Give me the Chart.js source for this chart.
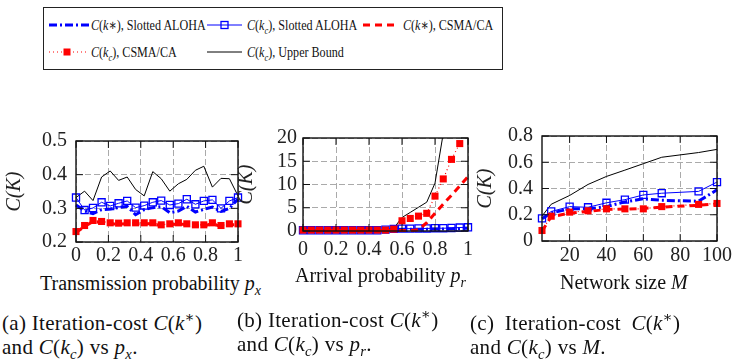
<!DOCTYPE html>
<html>
<head>
<meta charset="utf-8">
<script src="https://cdn.jsdelivr.net/npm/chart.js"></script>
<style>
  body { margin: 0; width: 735px; height: 361px; background: #fff; position: relative; overflow: hidden;
         font-family: 'Liberation Serif', 'DejaVu Serif', serif; color: #111; }
  canvas, .t { position: absolute; }
  .t { white-space: nowrap; }
  .lg { font-size: 15.5px; line-height: 18px; transform: scaleX(0.78); transform-origin: 0 50%; }
  .xt { font-size: 20px; line-height: 24px; }
  .cap { font-size: 21px; line-height: 24px; letter-spacing: 0.3px; }
  sub, sup { font-size: 70%; line-height: 0; }
</style>
</head>
<body>

<div class="t" style="left:43px;top:7px;width:460px;height:63px;border:1.5px solid #222;box-sizing:border-box;"></div>
<svg width="735" height="80" style="position:absolute;left:0;top:0">
  <line x1="49" y1="25" x2="89" y2="25" stroke="#00f" stroke-width="3" stroke-dasharray="8 3 2 3"/>
  <line x1="207" y1="25" x2="242" y2="25" stroke="#00f" stroke-width="1"/>
  <rect x="221" y="21.5" width="7" height="7" fill="none" stroke="#00f" stroke-width="1.3"/>
  <line x1="363" y1="25" x2="395" y2="25" stroke="#f00" stroke-width="3" stroke-dasharray="7 5"/>
  <line x1="49" y1="52" x2="87" y2="52" stroke="#f00" stroke-width="1.2" stroke-dasharray="1 3"/>
  <rect x="63.5" y="48.5" width="7" height="7" fill="#f00"/>
  <line x1="207" y1="52" x2="242" y2="52" stroke="#000" stroke-width="1"/>
</svg>
<div class="t lg" style="left:91px;top:16px"><i>C</i>(<i>k</i>∗), Slotted ALOHA</div>
<div class="t lg" style="left:247px;top:16px"><i>C</i>(<i>k<sub>c</sub></i>), Slotted ALOHA</div>
<div class="t lg" style="left:403px;top:16px"><i>C</i>(<i>k</i>∗), CSMA/CA</div>
<div class="t lg" style="left:91px;top:43px"><i>C</i>(<i>k<sub>c</sub></i>), CSMA/CA</div>
<div class="t lg" style="left:247px;top:43px"><i>C</i>(<i>k<sub>c</sub></i>), Upper Bound</div>

<canvas id="chartA" width="250" height="150" style="left:0;top:120px"></canvas>
<canvas id="chartB" width="248" height="140" style="left:232px;top:120px"></canvas>
<canvas id="chartC" width="264" height="155" style="left:471px;top:115px"></canvas>

<div class="t xt" style="left:40px;top:271px">Transmission probability <i>p<sub>x</sub></i></div>
<div class="t xt" style="left:295px;top:263px">Arrival probability <i>p<sub>r</sub></i></div>
<div class="t xt" style="left:560px;top:270px">Network size <i>M</i></div>

<div class="t cap" style="left:2px;top:311px">(a) Iteration-cost <i>C</i>(<i>k</i><sup>∗</sup>)<br>and <i>C</i>(<i>k<sub>c</sub></i>) vs <i>p<sub>x</sub></i>.</div>
<div class="t cap" style="left:237px;top:308px">(b) Iteration-cost <i>C</i>(<i>k</i><sup>∗</sup>)<br>and <i>C</i>(<i>k<sub>c</sub></i>) vs <i>p<sub>r</sub></i>.</div>
<div class="t cap" style="left:470px;top:311px"><span style="word-spacing:5px">(c) Iteration-cost <i>C</i>(<i>k</i><sup>∗</sup>)</span><br>and <i>C</i>(<i>k<sub>c</sub></i>) vs <i>M</i>.</div>

<script>
// (a) cost vs transmission probability
const pxVals = [0, 0.053, 0.105, 0.158, 0.211, 0.263, 0.316, 0.368, 0.421, 0.474, 0.526, 0.579, 0.632, 0.684, 0.737, 0.789, 0.842, 0.895, 0.947, 1];
const aAlohaStar = [0.31, 0.292, 0.284, 0.296, 0.298, 0.302, 0.306, 0.281, 0.296, 0.302, 0.305, 0.287, 0.292, 0.306, 0.289, 0.297, 0.304, 0.291, 0.3, 0.328];
const aAlohaKc = [0.332, 0.295, 0.301, 0.318, 0.307, 0.315, 0.322, 0.302, 0.308, 0.318, 0.323, 0.31, 0.314, 0.327, 0.312, 0.322, 0.325, 0.3, 0.322, 0.332];
const aCsmaStar = [0.228, 0.246, 0.261, 0.258, 0.254, 0.253, 0.254, 0.254, 0.254, 0.254, 0.248, 0.251, 0.254, 0.251, 0.248, 0.248, 0.254, 0.246, 0.251, 0.251];
const aCsmaKc = [0.231, 0.249, 0.264, 0.261, 0.257, 0.256, 0.257, 0.257, 0.257, 0.257, 0.251, 0.254, 0.257, 0.254, 0.251, 0.251, 0.257, 0.249, 0.254, 0.254];
const aUpper = [0.332, 0.351, 0.323, 0.393, 0.411, 0.383, 0.393, 0.356, 0.337, 0.409, 0.388, 0.351, 0.373, 0.386, 0.413, 0.425, 0.363, 0.389, 0.388, 0.337];

// (b) cost vs arrival probability
const prVals = [0, 0.05, 0.1, 0.15, 0.2, 0.25, 0.3, 0.35, 0.4, 0.45, 0.5, 0.55, 0.6, 0.65, 0.7, 0.75, 0.8, 0.85, 0.9, 0.95, 1];
const bAlohaStar = [0.1, 0.1, 0.1, 0.1, 0.1, 0.1, 0.1, 0.1, 0.1, 0.1, 0.2, 0.3, 0.35, 0.35, 0.4, 0.4, 0.45, 0.45, 0.5, 0.55, 0.6];
const bAlohaKc = [0.15, 0.15, 0.15, 0.15, 0.15, 0.15, 0.15, 0.15, 0.15, 0.15, 0.3, 0.45, 0.5, 0.5, 0.55, 0.55, 0.6, 0.6, 0.65, 0.75, 0.8];
const bCsmaStar = [0.1, 0.1, 0.1, 0.1, 0.1, 0.1, 0.1, 0.1, 0.1, 0.1, 0.1, 0.1, 0.1, 0.1, 0.3, 1.8, 3.8, 5.8, 7.7, 9.7, 11.7];
const bCsmaKc = [0.2, 0.2, 0.2, 0.2, 0.2, 0.2, 0.2, 0.2, 0.2, 0.2, 0.2, 0.4, 2.2, 2.7, 3.2, 3.8, 7.5, 11.2, 15.4, 18.8];
const bUpper = [0.1, 0.1, 0.1, 0.1, 0.1, 0.1, 0.1, 0.1, 0.1, 0.1, 0.1, 0.6, 2.9, 4.0, 5.1, 6.2, 10.3, 21];

// (c) cost vs network size
const mVals = [5, 10, 20, 30, 40, 50, 60, 70, 90, 100];
const cAlohaStar = [0.17, 0.213, 0.245, 0.245, 0.262, 0.298, 0.322, 0.31, 0.303, 0.39];
const cAlohaKc = [0.172, 0.225, 0.262, 0.257, 0.291, 0.315, 0.351, 0.364, 0.378, 0.449];
const cCsmaStar = [0.075, 0.185, 0.212, 0.225, 0.24, 0.243, 0.248, 0.258, 0.272, 0.282];
const cCsmaKc = [0.08, 0.189, 0.22, 0.23, 0.245, 0.245, 0.245, 0.262, 0.279, 0.286];
const cUpper = [0.19, 0.28, 0.347, 0.431, 0.492, 0.54, 0.589, 0.638, 0.674, 0.698];

// tick labels
const pTicks = [0, 0.2, 0.4, 0.6, 0.8, 1];
const aYTicks = [0.2, 0.3, 0.4, 0.5];
const bYTicks = [0, 5, 10, 15, 20];
const mTicks = [20, 40, 60, 80, 100];
const cYTicks = [0, 0.2, 0.4, 0.6, 0.8];

const BLUE = '#0000ff', RED = '#ff0000';
const serif = 'Liberation Serif';

function pts(xs, ys) {
    return ys.map((v, i) => ({ x: xs[i], y: v }));
}

function makeSets(xs, alohaStar, alohaKc, csmaStar, csmaKc, upper, clip) {
    return [
        { data: pts(xs, csmaKc), borderColor: RED, borderWidth: 1.2, borderDash: [1, 3],
          pointStyle: 'rect', pointRadius: 5, pointBackgroundColor: RED, pointBorderColor: RED, pointBorderWidth: 0, order: 0, clip },
        { data: pts(xs, csmaStar), borderColor: RED, borderWidth: 3, borderDash: [7, 5], pointRadius: 0, order: 1, clip },
        { data: pts(xs, alohaKc), borderColor: BLUE, borderWidth: 1, pointStyle: 'rect', pointRadius: 5,
          pointBackgroundColor: 'rgba(0,0,0,0)', pointBorderColor: BLUE, pointBorderWidth: 1.3, order: 2, clip },
        { data: pts(xs, alohaStar), borderColor: BLUE, borderWidth: 3, borderDash: [8, 3, 2, 3], pointRadius: 0, order: 3, clip },
        { data: pts(xs, upper), borderColor: '#000', borderWidth: 1, pointRadius: 0, order: 4, clip }
    ];
}

// black frame and inward tick marks like the original figure
const framePlugin = {
    id: 'frame',
    afterDraw(chart) {
        const { ctx, chartArea: a, scales: { x, y } } = chart;
        ctx.save();
        ctx.strokeStyle = '#111';
        ctx.lineWidth = 1;
        ctx.beginPath();
        x.ticks.forEach(t => {
            const p = x.getPixelForValue(t.value);
            ctx.moveTo(p, a.top); ctx.lineTo(p, a.top + 7);
            ctx.moveTo(p, a.bottom); ctx.lineTo(p, a.bottom - 7);
        });
        y.ticks.forEach(t => {
            const p = y.getPixelForValue(t.value);
            ctx.moveTo(a.left, p); ctx.lineTo(a.left + 7, p);
            ctx.moveTo(a.right, p); ctx.lineTo(a.right - 7, p);
        });
        ctx.stroke();
        ctx.lineWidth = 1.4;
        ctx.strokeRect(a.left, a.top, a.right - a.left, a.bottom - a.top);
        ctx.restore();
    }
};

function makeChart(id, sets, xr, yr, xTicks, yTicks, box) {
    const tickFont = { family: serif, size: 20 };
    return new Chart(document.getElementById(id), {
        type: 'line',
        data: { datasets: sets },
        plugins: [framePlugin],
        options: {
            responsive: false,
            animation: false,
            layout: { padding: { top: box.top, right: box.right, left: 0, bottom: 0 } },
            plugins: { legend: { display: false }, tooltip: { enabled: false } },
            scales: {
                x: {
                    type: 'linear', min: xr[0], max: xr[1],
                    afterBuildTicks: s => { s.ticks = xTicks.map(v => ({ value: v })); },
                    afterFit: s => { s.height = box.xh; },
                    grid: { color: '#aaa', lineWidth: 1, drawTicks: false },
                    border: { display: false, dash: [6, 3] },
                    ticks: { font: tickFont, color: '#222', padding: box.xpad, maxRotation: 0, autoSkip: false,
                             callback: v => String(+v.toFixed(2)) }
                },
                y: {
                    type: 'linear', min: yr[0], max: yr[1],
                    afterBuildTicks: s => { s.ticks = yTicks.map(v => ({ value: v })); },
                    afterFit: s => { s.width = box.yw; },
                    grid: { color: '#aaa', lineWidth: 1, drawTicks: false },
                    border: { display: false, dash: [6, 3] },
                    ticks: { font: tickFont, color: '#222', padding: box.ypad, autoSkip: false,
                             callback: v => String(+v.toFixed(2)) },
                    title: { display: true, text: 'C(K)', color: '#222',
                             font: { family: serif, size: 20, style: 'italic' }, padding: { top: 3, bottom: 0 } }
                }
            }
        }
    });
}

makeChart('chartA', makeSets(pxVals, aAlohaStar, aAlohaKc, aCsmaStar, aCsmaKc, aUpper, false),
    [0, 1], [0.2, 0.5], pTicks, aYTicks, { top: 19, right: 12, xh: 28, yw: 76, xpad: 2, ypad: 9 });

makeChart('chartB', makeSets(prVals, bAlohaStar, bAlohaKc, bCsmaStar, bCsmaKc, bUpper, { left: 8, right: 8, top: 0, bottom: 8 }),
    [0, 1], [0, 20], pTicks, bYTicks, { top: 15, right: 12, xh: 29, yw: 71, xpad: 7, ypad: 6 });

makeChart('chartC', makeSets(mVals, cAlohaStar, cAlohaKc, cCsmaStar, cCsmaKc, cUpper, false),
    [5, 100], [0, 0.8], mTicks, cYTicks, { top: 16, right: 18, xh: 29, yw: 71, xpad: 3, ypad: 9 });
</script>
</body>
</html>
